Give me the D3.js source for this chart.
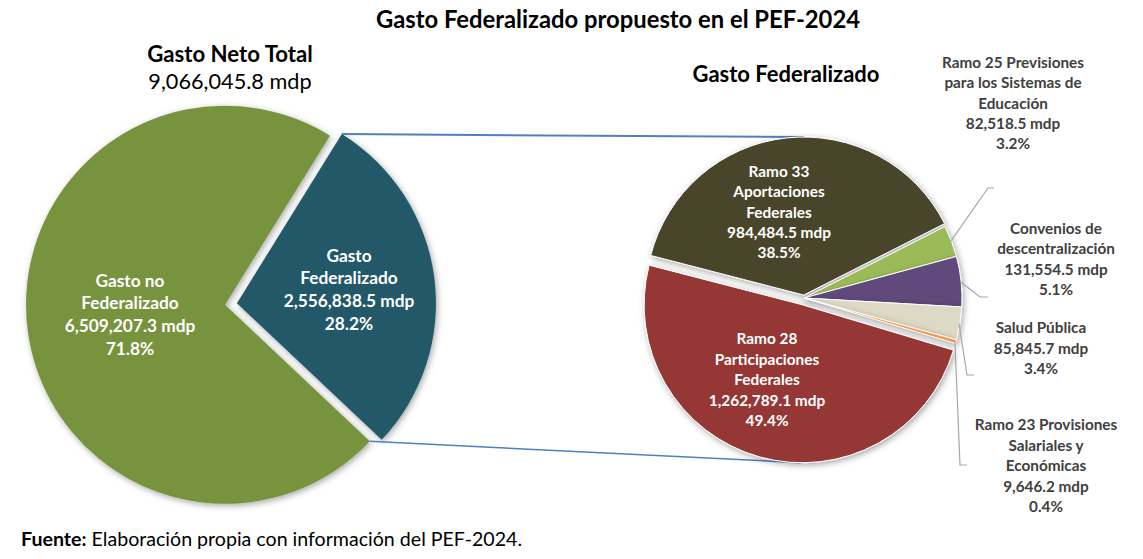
<!DOCTYPE html>
<html>
<head>
<meta charset="utf-8">
<script src="https://cdn.jsdelivr.net/npm/d3@7"></script>
<style>
  html, body { margin: 0; padding: 0; background: #fff; }
  svg { display: block; font-family: Lato, "Open Sans", sans-serif; }
</style>
</head>
<body>
<svg id="chart" width="1143" height="559"></svg>
<script>
// ---------------- DATA ----------------
const leftCategories = ["Gasto Federalizado", "Gasto no Federalizado"];
const leftLabelLines = [["Gasto", "Federalizado"], ["Gasto no", "Federalizado"]];
const leftValues = [2556838.5, 6509207.3];
const leftPercents = ["28.2%", "71.8%"];
const totalValue = 9066045.8;

const rightCategories = ["Ramo 33", "Ramo 25", "Convenios", "Salud Pública", "Ramo 23", "Ramo 28"];
const rightLabelLines = [
  ["Ramo 33", "Aportaciones", "Federales"],
  ["Ramo 25 Previsiones", "para los Sistemas de", "Educación"],
  ["Convenios de", "descentralización"],
  ["Salud Pública"],
  ["Ramo 23 Provisiones", "Salariales y", "Económicas"],
  ["Ramo 28", "Participaciones", "Federales"]
];
const rightValues = [984484.5, 82518.5, 131554.5, 85845.7, 9646.2, 1262789.1];
const rightPercents = ["38.5%", "3.2%", "5.1%", "3.4%", "0.4%", "49.4%"];

const titleText = "Gasto Federalizado propuesto en el PEF-2024";
const leftTitle = "Gasto Neto Total";
const rightTitle = "Gasto Federalizado";
const sourceBold = "Fuente:";
const sourceText = " Elaboración propia con información del PEF-2024.";

// ---------------- STYLE / LAYOUT ----------------
const leftColors = ["#215968", "#77933C"];
const rightColors = ["#4A442A", "#9BBB59", "#604A7B", "#DDD9C4", "#F79646", "#953735"];
const deg = Math.PI / 180;
const fmt = d3.format(",.1f");

const L = { cx: 231, cy: 304, r: 199, start: 31.8 * deg, explode: [6, 6] };
const R = { cx: 804, cy: 298, r: 158, start: -75.5 * deg, explode: [3, 0, 0, 0, 0, 7] };

// label layout (positions only)
const leftLabelPos = [{ x: 349, y: 255, dy: 22.7 }, { x: 130, y: 280, dy: 22.7 }];
const rightLabelPos = [
  { x: 779, y: 171, dy: 20.3, inside: true },
  { x: 1013, y: 62, dy: 20.3, elbow: [988, 188], end: 994 },
  { x: 1056, y: 228, dy: 20.3, elbow: [980, 297], end: 988 },
  { x: 1041, y: 327, dy: 20.5, elbow: [967, 375], end: 974 },
  { x: 1046, y: 424, dy: 20.5, elbow: [960, 465], end: 967 },
  { x: 767, y: 338, dy: 20.5, inside: true }
];

const svg = d3.select("#chart");

const defs = svg.append("defs");
const f = defs.append("filter").attr("id", "shadow")
  .attr("x", "-20%").attr("y", "-20%").attr("width", "140%").attr("height", "140%");
f.append("feDropShadow").attr("dx", 1.5).attr("dy", 2).attr("stdDeviation", 3)
  .attr("flood-color", "#000").attr("flood-opacity", 0.35);

function offset(d, e) {
  const m = (d.startAngle + d.endAngle) / 2;
  return [Math.sin(m) * e, -Math.cos(m) * e];
}
function pointAt(cx, cy, r, a) { return [cx + Math.sin(a) * r, cy - Math.cos(a) * r]; }

// ---------------- LEFT PIE ----------------
const leftPie = d3.pie().sort(null).value(d => d)
  .startAngle(L.start).endAngle(L.start + 2 * Math.PI);
const leftArcs = leftPie(leftValues);
const leftArc = d3.arc().innerRadius(0).outerRadius(L.r);

const gl = svg.append("g");
leftArcs.forEach((d, i) => {
  const [ox, oy] = offset(d, L.explode[i]);
  d.cx = L.cx + ox; d.cy = L.cy + oy;
});
gl.selectAll("path").data(leftArcs).join("path")
  .attr("transform", d => `translate(${d.cx},${d.cy})`)
  .attr("d", leftArc)
  .attr("fill", (d, i) => leftColors[i])
  .attr("filter", "url(#shadow)");

// ---------------- RIGHT PIE ----------------
const rightPie = d3.pie().sort(null).value(d => d)
  .startAngle(R.start).endAngle(R.start + 2 * Math.PI);
const rightArcs = rightPie(rightValues);
const rightArc = d3.arc().innerRadius(0).outerRadius(R.r);
rightArcs.forEach((d, i) => {
  const [ox, oy] = offset(d, R.explode[i]);
  d.cx = R.cx + ox; d.cy = R.cy + oy;
});

// connector lines
const blueArc = leftArcs[0], greenArc = leftArcs[1];
const topStart = pointAt(blueArc.cx, blueArc.cy, L.r, blueArc.startAngle);
const botStart = pointAt(greenArc.cx, greenArc.cy, L.r, greenArc.startAngle);
const r33 = rightArcs[0], r28 = rightArcs[5];
const topEnd = [R.cx, r33.cy - R.r];
const botEnd = [r28.cx, r28.cy + R.r];
svg.append("line").attr("x1", topStart[0]).attr("y1", topStart[1])
  .attr("x2", topEnd[0]).attr("y2", topEnd[1])
  .attr("stroke", "#4F81BD").attr("stroke-width", 2);
svg.append("line").attr("x1", botStart[0]).attr("y1", botStart[1])
  .attr("x2", botEnd[0]).attr("y2", botEnd[1])
  .attr("stroke", "#4F81BD").attr("stroke-width", 1.5);

const gr = svg.append("g");
gr.selectAll("path").data(rightArcs).join("path")
  .attr("transform", d => `translate(${d.cx},${d.cy})`)
  .attr("d", rightArc)
  .attr("fill", (d, i) => rightColors[i])
  .attr("stroke", "#fff").attr("stroke-width", 1).attr("stroke-linejoin", "round")
  .attr("filter", "url(#shadow)");

// leader lines
rightArcs.forEach((d, i) => {
  const p = rightLabelPos[i];
  if (p.inside) return;
  const m = (d.startAngle + d.endAngle) / 2;
  const s = pointAt(d.cx, d.cy, R.r - 1, m);
  svg.append("polyline")
    .attr("points", [s, p.elbow, [p.end, p.elbow[1]]].map(q => q.join(",")).join(" "))
    .attr("fill", "none").attr("stroke", "#A6A6A6").attr("stroke-width", 1.2);
});

// ---------------- TEXT ----------------
svg.append("text").attr("x", 618).attr("y", 19).attr("text-anchor", "middle")
  .attr("dominant-baseline", "central").attr("font-weight", "bold")
  .attr("font-size", 23.8).attr("fill", "#000").text(titleText);

svg.append("text").attr("x", 230).attr("y", 53).attr("text-anchor", "middle")
  .attr("dominant-baseline", "central").attr("font-weight", "bold")
  .attr("font-size", 22.2).attr("fill", "#000").text(leftTitle);
svg.append("text").attr("x", 230).attr("y", 81).attr("text-anchor", "middle")
  .attr("dominant-baseline", "central")
  .attr("font-size", 21.7).attr("fill", "#000").text(fmt(totalValue) + " mdp");

svg.append("text").attr("x", 786).attr("y", 73).attr("text-anchor", "middle")
  .attr("dominant-baseline", "central").attr("font-weight", "bold")
  .attr("font-size", 22).attr("fill", "#000").text(rightTitle);

function block(lines, p, size, color) {
  const t = svg.append("text").attr("text-anchor", "middle")
    .attr("font-weight", "bold").attr("font-size", size).attr("fill", color);
  lines.forEach((s, k) => {
    t.append("tspan").attr("x", p.x).attr("y", p.y + k * p.dy)
      .attr("dominant-baseline", "central").text(s);
  });
}

leftArcs.forEach((d, i) => {
  block([...leftLabelLines[i], fmt(leftValues[i]) + " mdp", leftPercents[i]],
    leftLabelPos[i], 17.3, "#fff");
});
rightArcs.forEach((d, i) => {
  const p = rightLabelPos[i];
  block([...rightLabelLines[i], fmt(rightValues[i]) + " mdp", rightPercents[i]],
    p, p.inside ? 15.4 : 15.3, p.inside ? "#fff" : "#404040");
});

const src = svg.append("text").attr("x", 21).attr("y", 538)
  .attr("dominant-baseline", "central").attr("font-size", 19.6).attr("fill", "#000");
src.append("tspan").attr("font-weight", "bold").text(sourceBold);
src.append("tspan").text(sourceText);
</script>
</body>
</html>
